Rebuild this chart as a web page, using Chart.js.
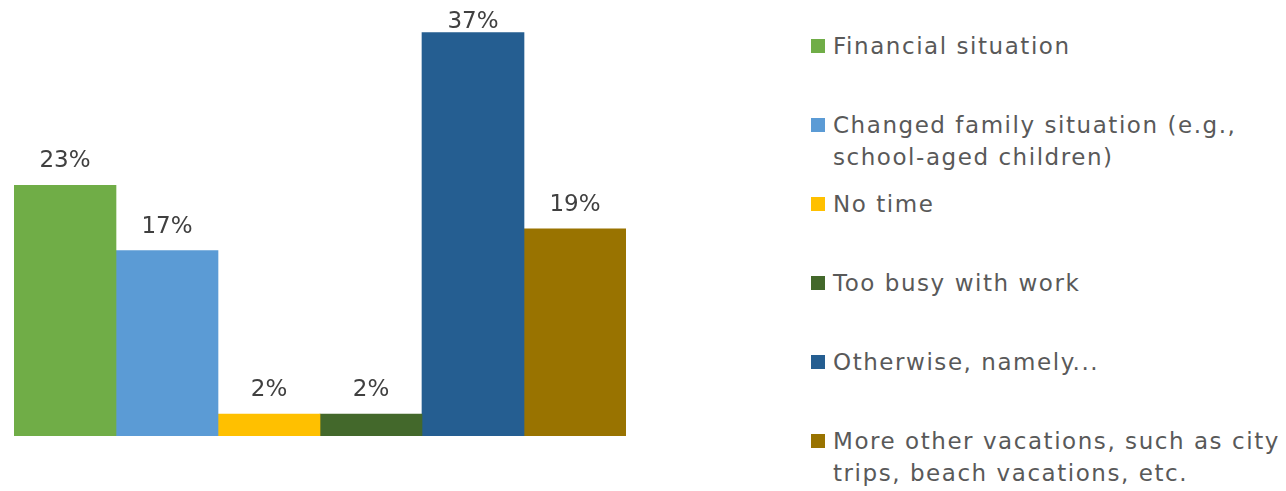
<!DOCTYPE html>
<html>
<head>
<meta charset="utf-8">
<script src="https://cdn.jsdelivr.net/npm/chart.js@4"></script>
<style>
  html, body { margin: 0; padding: 0; background: #fff; }
  body { width: 1286px; height: 491px; position: relative; overflow: hidden; font-family: "DejaVu Sans", sans-serif; }
  #chart-box { position: absolute; left: 0; top: 0; width: 640px; height: 491px; }
  #legend { position: absolute; left: 811px; top: 0; width: 475px; }
  .item { position: absolute; left: 0; width: 475px; }
  .swatch { position: absolute; left: 0; width: 14px; height: 14px; top: 9px; }
  .text { margin-left: 22px; font-size: 23px; letter-spacing: 1.55px; line-height: 32px; color: #595959; white-space: nowrap; }
</style>
</head>
<body>
<div id="chart-box"><canvas id="bar-chart"></canvas></div>
<div id="legend"></div>
<script>
var categories = ["Reasons"];
var seriesNames = [
    "Financial situation",
    "Changed family situation (e.g., school-aged children)",
    "No time",
    "Too busy with work",
    "Otherwise, namely...",
    "More other vacations, such as city trips, beach vacations, etc."
];
// two-line legend entries break here
var legendLines = [
    ["Financial situation"],
    ["Changed family situation (e.g.,", "school-aged children)"],
    ["No time"],
    ["Too busy with work"],
    ["Otherwise, namely..."],
    ["More other vacations, such as city", "trips, beach vacations, etc."]
];
var seriesValues = [23, 17, 2, 2, 37, 19];
var colors = ["#70AD47", "#5B9BD5", "#FFC000", "#43682B", "#255E91", "#997300"];

// percent labels above each bar, kept inside the canvas for the tallest one
var valueLabels = {
    id: 'valueLabels',
    afterDatasetsDraw: function (chart) {
        var ctx = chart.ctx;
        ctx.save();
        ctx.font = '23px "DejaVu Sans", sans-serif';
        ctx.fillStyle = '#404040';
        ctx.textAlign = 'center';
        ctx.textBaseline = 'alphabetic';
        chart.data.datasets.forEach(function (ds, i) {
            chart.getDatasetMeta(i).data.forEach(function (bar, j) {
                var y = Math.max(bar.y - 18, 28);
                ctx.fillText(ds.data[j] + '%', bar.x, y);
            });
        });
        ctx.restore();
    }
};

new Chart(document.getElementById("bar-chart"), {
    type: 'bar',
    data: {
        labels: categories,
        datasets: seriesNames.map(function (name, i) {
            return {
                label: name,
                data: [seriesValues[i]],
                backgroundColor: colors[i],
                barPercentage: 1,
                categoryPercentage: 1
            };
        })
    },
    options: {
        maintainAspectRatio: false,
        responsive: true,
        animation: false,
        layout: { padding: { left: 14, right: 14, top: 0, bottom: 55 } },
        plugins: {
            legend: { display: false },
            tooltip: { enabled: false }
        },
        scales: {
            x: { display: false },
            y: { display: false, min: 0, max: 40 }
        }
    },
    plugins: [valueLabels]
});

// legend on the right
var legend = document.getElementById("legend");
legendLines.forEach(function (lines, i) {
    var item = document.createElement("div");
    item.className = "item";
    item.style.top = (30 + i * 79) + "px";
    var sw = document.createElement("div");
    sw.className = "swatch";
    sw.style.background = colors[i];
    var tx = document.createElement("div");
    tx.className = "text";
    tx.innerHTML = lines.join("<br>");
    item.appendChild(sw);
    item.appendChild(tx);
    legend.appendChild(item);
});
</script>
</body>
</html>
